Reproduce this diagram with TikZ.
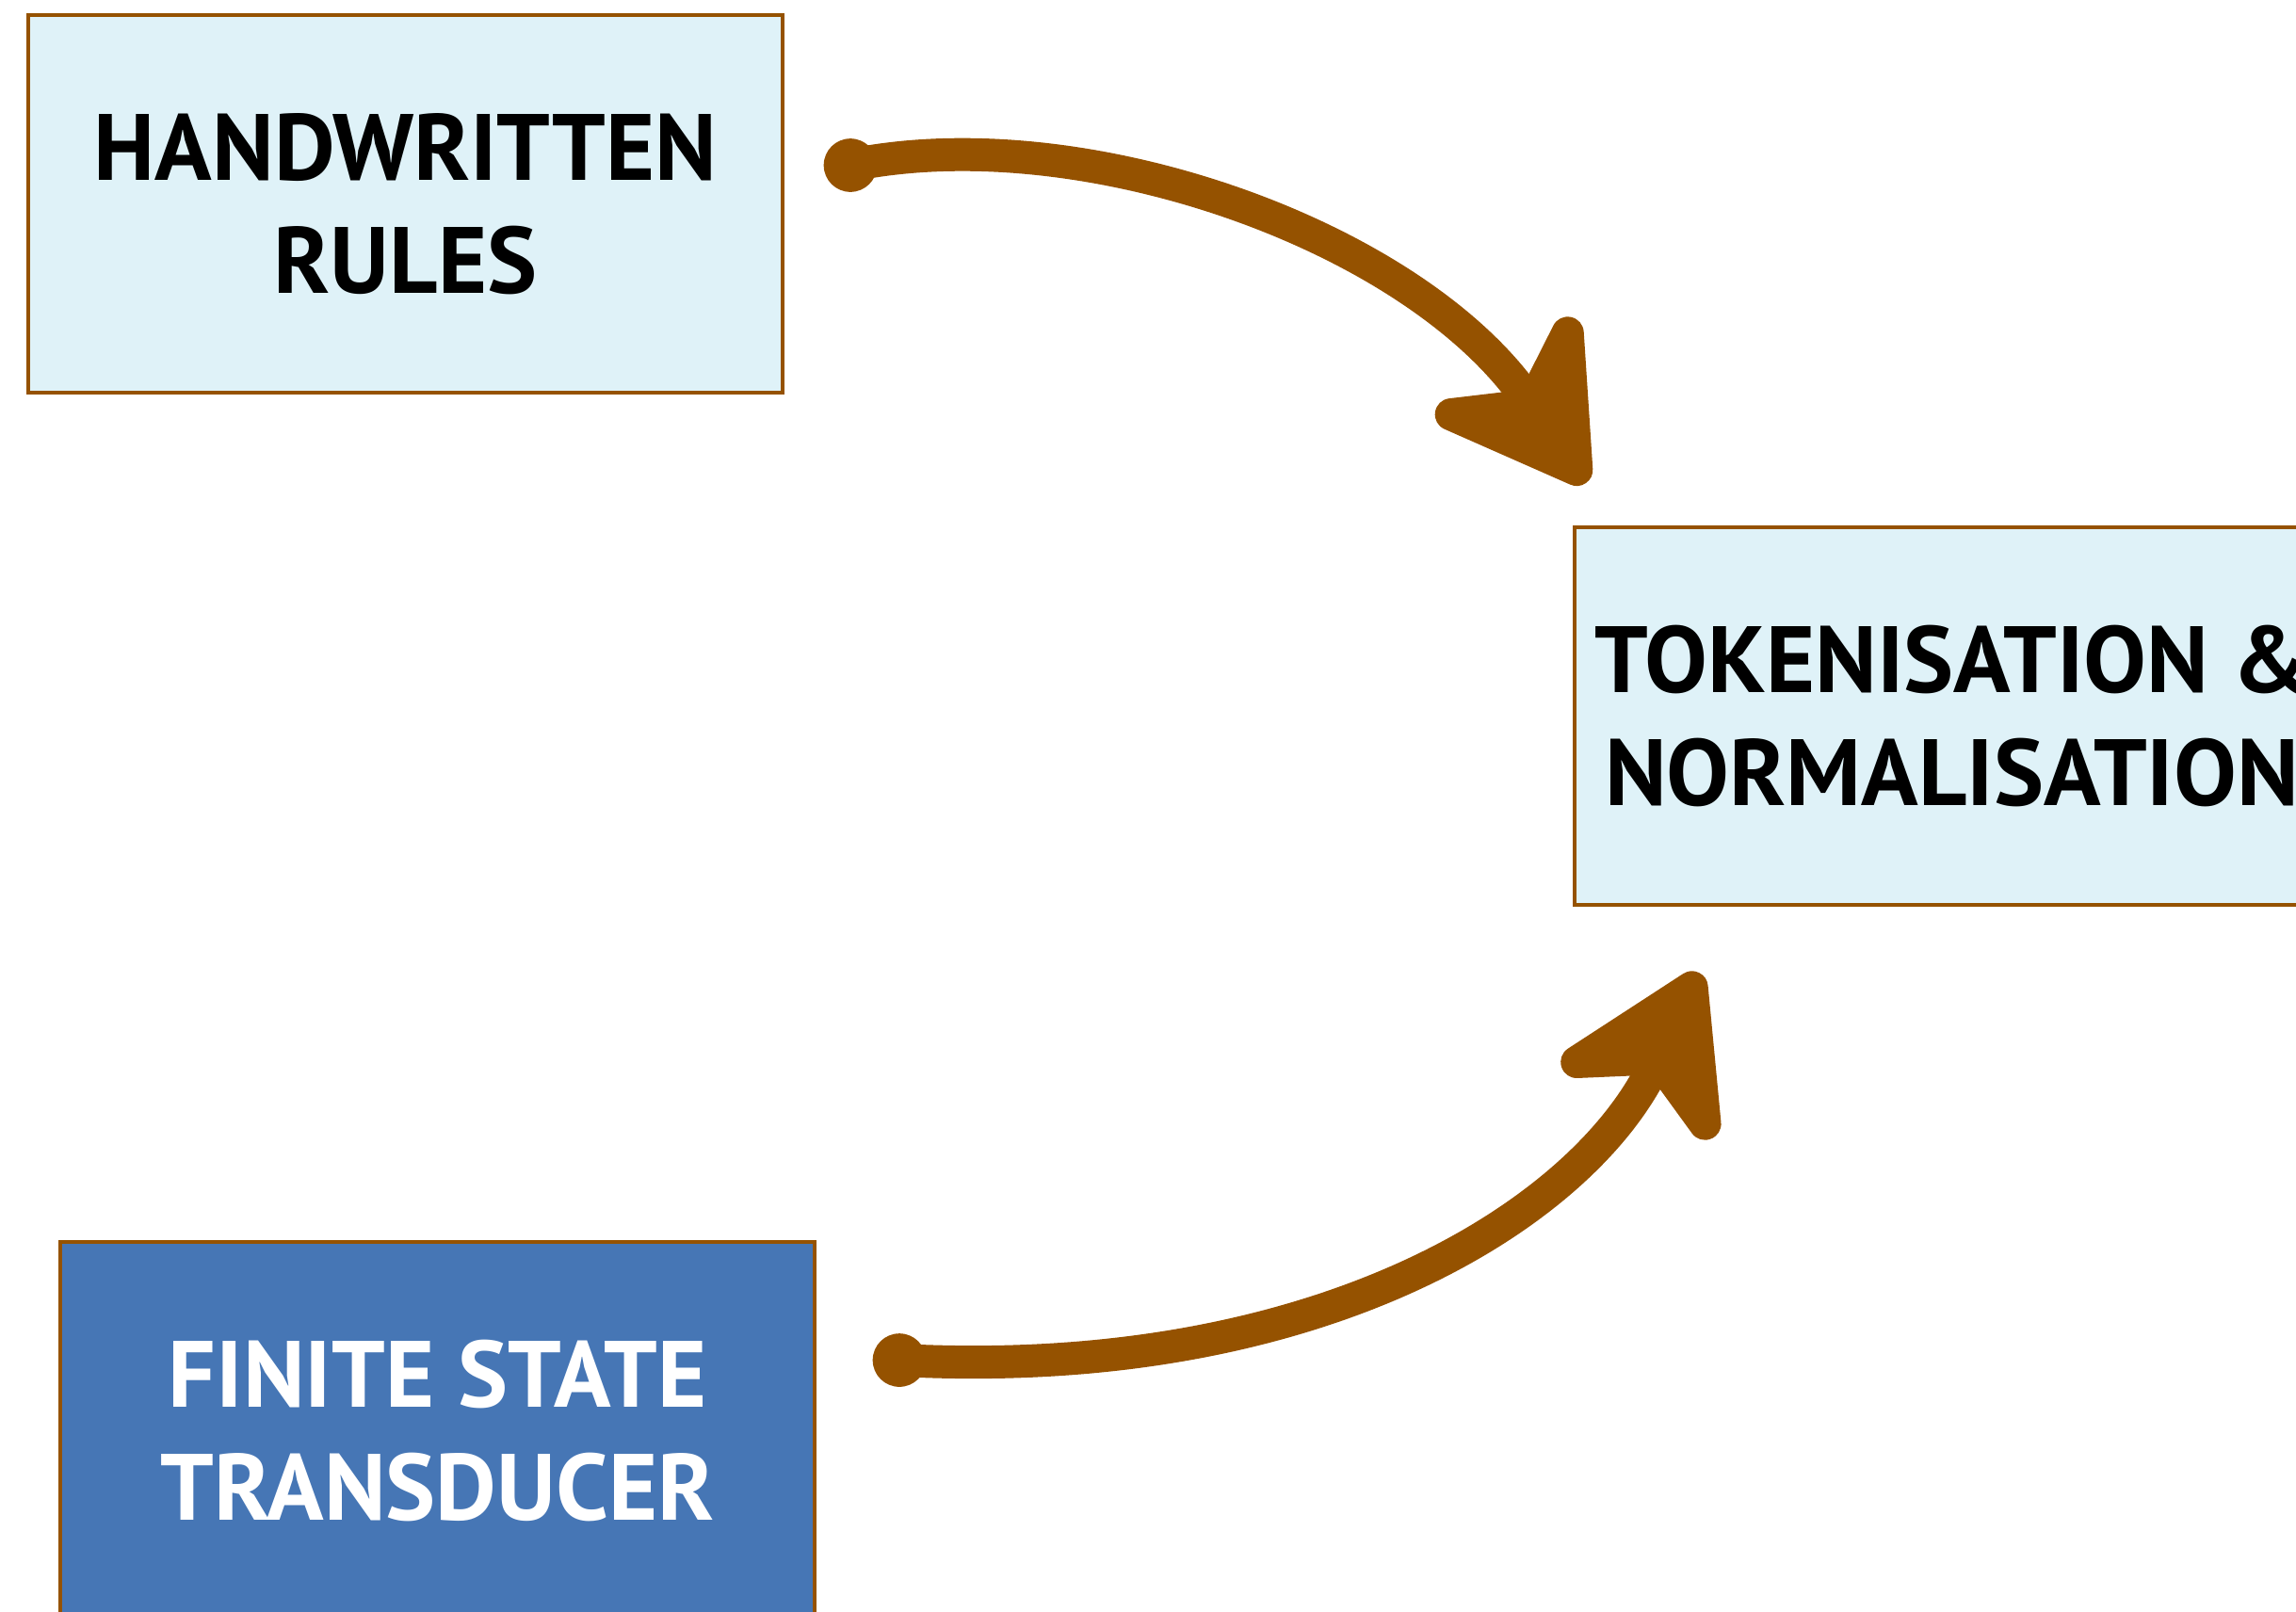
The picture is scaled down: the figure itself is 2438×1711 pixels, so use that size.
\documentclass[tikz,border=0pt]{standalone}
\usepackage{fontspec}
\setmainfont{PT Sans}
\usetikzlibrary{arrows.meta,calc}
\definecolor{brownline}{RGB}{149,82,0}
\definecolor{paleblue}{RGB}{223,242,248}
\definecolor{steelfill}{RGB}{70,118,181}
\begin{document}
\begin{tikzpicture}[x=0.3pt,y=-0.3pt,
  procbox/.style={draw=brownline, line width=1.2pt, minimum width=240.3pt, minimum height=120.3pt,
    align=center, font=\fontsize{30}{36}\selectfont\bfseries, inner sep=5pt},
  flowarrow/.style={draw=brownline, line width=10.5pt, line cap=round, line join=round,
    -{Stealth[length=60pt,width=72pt,inset=19pt,round]}},
  blob/.style={fill=brownline, circle, inner sep=0pt, minimum size=17pt}]
\useasboundingbox (0,0) rectangle (2438,1711);
\node[procbox, fill=paleblue, anchor=north west] (rules) at (28,14) {HANDWRITTEN\\RULES};
\node[procbox, fill=paleblue, anchor=north west] (tok) at (1670,558) {TOKENISATION \&\\NORMALISATION};
\node[procbox, fill=steelfill, text=white, anchor=north west] (fst) at (62,1317) {FINITE STATE\\TRANSDUCER};
\coordinate (s1) at ($(rules.east)+(70,-41)$);
\coordinate (t1) at ($(tok.north west)+(14,-45)$);
\coordinate (s2) at ($(fst.east)+(88,-75)$);
\coordinate (t2) at ($(tok.south west)+(134,70)$);
\node[blob] (b1) at (s1) {};
\node[blob] (b2) at (s2) {};
\draw[flowarrow] (s1) .. controls (1150,125) and (1500,250) .. (t1);
\draw[flowarrow] (s2) .. controls (1400,1468) and (1680,1290) .. (t2);
\end{tikzpicture}
\end{document}
